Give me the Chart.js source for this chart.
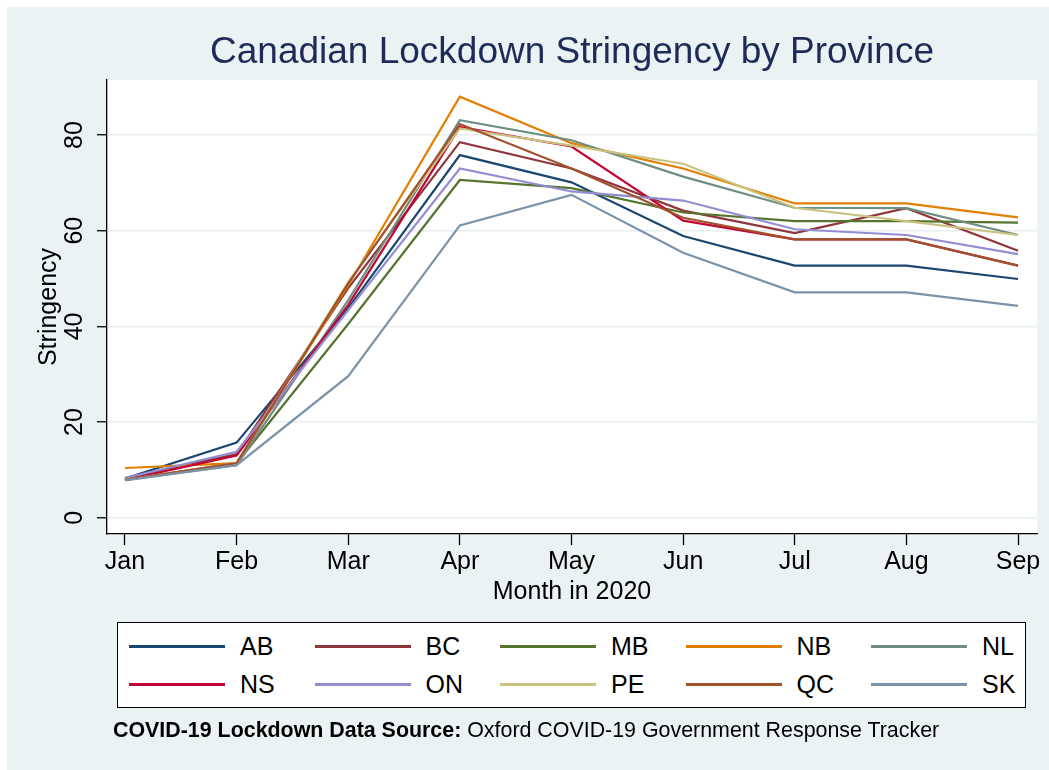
<!DOCTYPE html>
<html>
<head>
<meta charset="utf-8">
<title>Canadian Lockdown Stringency by Province</title>
<script src="https://cdn.jsdelivr.net/npm/chart.js@4.4.0/dist/chart.umd.min.js"></script>
<style>
  body { margin: 0; background: #fff; font-family: "Liberation Sans", Arial, sans-serif; }
  #page { position: absolute; left: 0; top: 0; width: 1049px; height: 770px; overflow: hidden; }
  #bg { position: absolute; left: 7px; top: 7px; right: 0; bottom: 0; background: #eaf2f3; }
  #wrap { position: absolute; left: 0; top: 0; width: 1049px; height: 770px; }
  #title { position: absolute; left: 107px; width: 930px; top: 31px; text-align: center;
           font-size: 37px; line-height: 40px; color: #1e2b58; }
  #legend { position: absolute; left: 117px; top: 622px; width: 907px; height: 84px;
            background: #fff; border: 1px solid #000; }
  .item { position: absolute; height: 30px; }
  .swatch { position: absolute; left: 0; top: 14px; width: 96px; height: 2.5px; }
  .lab { position: absolute; left: 111px; top: 0; font-size: 25px; line-height: 30px; color: #000; }
  #note { position: absolute; left: 113px; top: 718px; font-size: 21.4px; line-height: 24px; color: #000; }
</style>
</head>
<body>
<div id="page">
  <div id="bg"></div>
  <div id="wrap"><canvas id="chart"></canvas></div>
  <div id="title">Canadian Lockdown Stringency by Province</div>
  <div id="legend"></div>
  <div id="note"><b>COVID-19 Lockdown Data Source:</b> Oxford COVID-19 Government Response Tracker</div>
</div>
<script>
// Mois (axe x) et graduations de l'axe y
const months = ['Jan', 'Feb', 'Mar', 'Apr', 'May', 'Jun', 'Jul', 'Aug', 'Sep'];
const yTicks = [0, 20, 40, 60, 80];

// Provinces et couleurs (palette s2color)
const provinces = ['AB', 'BC', 'MB', 'NB', 'NL', 'NS', 'ON', 'PE', 'QC', 'SK'];
const colours = ['#1a476f', '#90353b', '#55752f', '#e37e00', '#6e8e84',
                 '#c10534', '#938dd2', '#cac27e', '#a0522d', '#7b92a8'];

// Indice de stringence moyen par mois
const ab = [8.2, 15.7, 43.8, 75.8, 70.1, 58.9, 52.7, 52.7, 49.9];
const bc = [8.3, 13.3, 48.0, 78.5, 73.0, 64.2, 59.5, 64.7, 55.8];
const mb = [7.9, 11.4, 40.5, 70.6, 68.9, 63.8, 62.0, 62.0, 61.7];
const nb = [10.4, 11.4, 48.6, 88.0, 78.3, 73.0, 65.7, 65.7, 62.8];
const nl = [7.9, 11.0, 45.5, 83.1, 78.9, 71.3, 64.8, 64.7, 59.1];
const ns = [7.9, 13.0, 44.5, 81.7, 77.6, 62.1, 58.2, 58.2, 52.7];
const on = [8.3, 13.8, 43.4, 73.0, 68.2, 66.3, 60.3, 59.1, 55.1];
const pe = [7.9, 11.4, 49.3, 81.4, 77.8, 74.0, 64.8, 62.0, 59.1];
const qc = [7.9, 11.4, 49.0, 82.3, 73.0, 62.7, 58.2, 58.2, 52.7];
const sk = [7.8, 11.0, 29.6, 61.1, 67.5, 55.4, 47.1, 47.1, 44.3];
const series = [ab, bc, mb, nb, nl, ns, on, pe, qc, sk];

const fontFamily = '"Liberation Sans", Arial, sans-serif';

// Légende HTML
const legend = document.getElementById('legend');
provinces.forEach((p, i) => {
    const item = document.createElement('div');
    item.className = 'item';
    item.style.left = (11 + (i % 5) * 185.5) + 'px';
    item.style.top = (i < 5 ? 8 : 46) + 'px';
    item.innerHTML = '<div class="swatch" style="background:' + colours[i] + '"></div>' +
                     '<div class="lab">' + p + '</div>';
    legend.appendChild(item);
});

// Fond blanc de la zone de tracé
const plotBackground = {
    id: 'plotBackground',
    beforeDraw(chart) {
        const { ctx, chartArea: a } = chart;
        ctx.save();
        ctx.fillStyle = '#fff';
        ctx.fillRect(a.left, a.top, a.right - a.left, a.bottom - a.top);
        ctx.restore();
    }
};

// Étiquettes verticales de l'axe y + titre
const yAxisText = {
    id: 'yAxisText',
    afterDraw(chart) {
        const { ctx, chartArea: a } = chart;
        const y = chart.scales.y;
        ctx.save();
        ctx.fillStyle = '#000';
        ctx.textAlign = 'center';
        ctx.textBaseline = 'middle';
        ctx.font = '25px ' + fontFamily;
        yTicks.forEach(v => {
            ctx.save();
            ctx.translate(75, y.getPixelForValue(v));
            ctx.rotate(-Math.PI / 2);
            ctx.fillText(String(v), 0, 0);
            ctx.restore();
        });
        ctx.translate(49, (a.top + a.bottom) / 2);
        ctx.rotate(-Math.PI / 2);
        ctx.fillText('Stringency', 0, 0);
        ctx.restore();
    }
};

const ctx = document.getElementById('chart').getContext('2d');
const chart = new Chart(ctx, {
    type: 'line',
    data: {
        datasets: provinces.map((p, i) => ({
            label: p,
            data: series[i].map((v, m) => ({ x: m, y: v })),
            borderColor: colours[i],
            backgroundColor: colours[i],
            borderWidth: 2.2,
            pointRadius: 0,
            tension: 0,
            fill: false,
            order: provinces.length - i
        }))
    },
    options: {
        responsive: true,
        maintainAspectRatio: false,
        animation: false,
        events: [],
        layout: { padding: { left: 0, top: 80, right: 12, bottom: 163 } },
        plugins: {
            legend: { display: false },
            tooltip: { enabled: false },
            title: { display: false }
        },
        scales: {
            x: {
                type: 'linear',
                min: -0.161,
                max: 8.17,
                afterBuildTicks: s => { s.ticks = months.map((m, i) => ({ value: i })); },
                afterFit: s => { s.height = 73; },
                grid: { drawOnChartArea: false, tickLength: 11, tickColor: '#000', tickWidth: 1.3 },
                border: { color: '#000', width: 1.3 },
                ticks: {
                    color: '#000',
                    padding: 2,
                    autoSkip: false,
                    maxRotation: 0,
                    font: { family: fontFamily, size: 25 },
                    callback: v => months[v]
                },
                title: {
                    display: true,
                    text: 'Month in 2020',
                    color: '#000',
                    padding: { top: 0, bottom: 0 },
                    font: { family: fontFamily, size: 25 }
                }
            },
            y: {
                min: -3.4,
                max: 91.5,
                afterBuildTicks: s => { s.ticks = yTicks.map(v => ({ value: v })); },
                afterFit: s => { s.width = 107; },
                grid: { color: '#e6eef0', lineWidth: 1.5, tickLength: 10, tickColor: '#000', tickWidth: 1.3 },
                border: { color: '#000', width: 1.3 },
                ticks: { display: false }
            }
        }
    },
    plugins: [plotBackground, yAxisText]
});
</script>
</body>
</html>
